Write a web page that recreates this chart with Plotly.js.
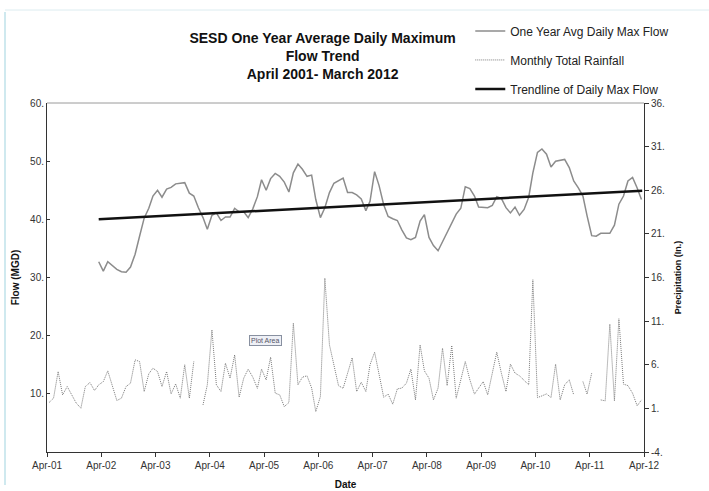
<!DOCTYPE html>
<html>
<head>
<meta charset="utf-8">
<script src="https://cdn.plot.ly/plotly-3.0.1.min.js"></script>
<style>
html,body{margin:0;padding:0;background:#fff;}
#chart{width:709px;height:491px;}
</style>
</head>
<body>
<div id="chart"></div>
<script>
// One year average daily max flow (MGD), monthly, Mar 2002 .. Mar 2012
var flowStart = [2002, 3];
var flowValues = [
 32.7,31.1,32.7,32.0,31.4,31.0,30.9,31.8,34.0,37.1,40.2,41.9,
 44.0,45.0,43.8,45.2,45.5,46.1,46.2,46.3,44.5,44.0,42.0,40.3,
 38.3,40.7,41.1,39.8,40.4,40.4,41.9,41.3,41.3,40.3,41.8,43.9,
 46.8,45.0,47.0,47.9,47.4,46.4,44.7,48.0,49.5,48.6,47.4,47.6,
 43.4,40.3,42.0,44.6,46.2,46.7,47.1,44.6,44.6,44.2,43.5,41.5,
 43.1,48.2,45.8,42.5,40.5,40.1,39.8,38.2,36.8,36.5,36.9,39.7,
 40.8,36.9,35.5,34.6,36.2,37.6,39.3,40.9,41.9,45.6,45.3,44.0,
 42.1,42.1,42.0,42.4,43.9,43.6,42.0,41.1,42.1,40.7,41.7,43.8,
 48.0,51.5,52.1,51.2,49.0,50.0,50.2,50.3,48.9,46.6,45.4,44.0,
 40.6,37.2,37.1,37.6,37.6,37.6,39.0,42.6,44.0,46.6,47.2,45.4,
 43.4
];
// Monthly total rainfall (in.), Apr 2001 .. Mar 2012 (null = missing)
var rainStart = [2001, 4];
var rainValues = [
 1.67,2.17,5.22,2.55,3.5,2.55,1.6,1.02,3.5,3.96,3.04,3.7,
 4.07,5.3,3.7,1.9,2.17,3.5,3.89,6.56,6.37,2.93,4.96,5.61,
 5.22,3.5,5.22,2.66,3.81,2.17,6.0,2.17,6.37,null,1.4,3.7,
 10.0,3.7,2.93,6.18,4.46,7.13,2.28,4.46,5.5,4.58,3.3,5.5,
 4.27,6.87,2.74,2.55,1.2,1.67,10.77,3.7,4.58,4.73,3.35,0.63,
 2.35,15.93,8.28,6.0,3.6,3.3,5.04,6.8,2.93,4.0,2.93,6.0,
 7.44,5.04,2.28,2.63,1.48,3.24,3.32,3.89,5.5,1.97,8.28,5.3,
 4.46,1.97,3.32,7.9,3.61,8.2,2.17,4.27,6.37,4.27,2.63,3.32,
 4.07,2.55,5.15,7.44,5.04,2.93,6.07,5.04,4.73,4.27,3.7,15.74,
 2.24,2.43,2.66,2.24,6.07,1.97,3.7,4.27,2.55,null,4.07,2.63,
 5.04,null,1.97,1.86,10.66,1.86,11.27,3.78,3.61,2.74,1.29,1.97
];
// Trendline of daily max flow: endpoints
var trendDates = ['2002-03-15', '2012-03-20'];
var trendValues = [40.0, 44.9];

var leftTicks = [0,10,20,30,40,50,60];
var leftTickText = ['', '10.', '20.', '30.', '40.', '50.', '60.'];
var rightTicks = [-4,1,6,11,16,21,26,31,36];
var rightTickText = ['-4.', '1.', '6.', '11.', '16.', '21.', '26.', '31.', '36.'];

function monthDates(start, n) {
  var out = [];
  var y = start[0], m = start[1];
  for (var i = 0; i < n; i++) {
    out.push(y + '-' + (m < 10 ? '0' : '') + m + '-15');
    m++; if (m > 12) { m = 1; y++; }
  }
  return out;
}

var flowDates = monthDates(flowStart, flowValues.length);
var rainDates = monthDates(rainStart, rainValues.length);

var font = 'Liberation Sans, Arial, sans-serif';

var traces = [
  {x: flowDates, y: flowValues, type: 'scatter', mode: 'lines',
   name: 'One Year Avg Daily Max Flow', legendgroup: 'a',
   line: {color: '#8c8c8c', width: 1.5}},
  {x: rainDates, y: rainValues, type: 'scatter', mode: 'lines', yaxis: 'y2',
   name: 'Monthly Total Rainfall', legendgroup: 'b', connectgaps: false,
   line: {color: '#7a7a7a', width: 1, dash: '1px,1px'}},
  {x: trendDates, y: trendValues, type: 'scatter', mode: 'lines',
   name: 'Trendline of Daily Max Flow', legendgroup: 'c',
   line: {color: '#111111', width: 2.5}}
];

var layout = {
  width: 709, height: 491,
  margin: {l: 47, r: 65, t: 103, b: 39},
  paper_bgcolor: '#ffffff', plot_bgcolor: '#ffffff',
  font: {family: font, color: '#222'},
  title: {
    text: 'SESD One Year Average Daily Maximum<br>Flow Trend<br>April 2001- March 2012',
    font: {family: font, size: 14, color: '#111', weight: 'bold'},
    x: 0.455, xref: 'container', xanchor: 'center',
    y: 0.913, yref: 'container', yanchor: 'top'
  },
  showlegend: true,
  legend: {
    x: 0.709, xanchor: 'left', y: 1.248, yanchor: 'top',
    bgcolor: 'rgba(0,0,0,0)', font: {family: font, size: 12, color: '#222'},
    tracegroupgap: 10, traceorder: 'grouped'
  },
  xaxis: {
    type: 'date',
    range: ['2001-04-01', '2012-04-01'],
    tick0: '2001-04-01', dtick: 'M12', tickformat: '%b-%y',
    ticks: 'outside', ticklen: 4, tickcolor: '#333',
    showline: true, linecolor: '#333', linewidth: 1,
    showgrid: false, zeroline: false,
    tickfont: {family: font, size: 10, color: '#333'},
    title: {text: 'Date', font: {family: font, size: 10, color: '#111', weight: 'bold'}, standoff: 10}
  },
  yaxis: {
    range: [0, 60],
    tickvals: leftTicks, ticktext: leftTickText,
    ticks: 'inside', ticklen: 3, tickcolor: '#333',
    showline: true, linecolor: '#333', linewidth: 1,
    showgrid: false, zeroline: false,
    tickfont: {family: font, size: 10, color: '#333'},
    title: {text: 'Flow (MGD)', font: {family: font, size: 10, color: '#111', weight: 'bold'}, standoff: 8}
  },
  yaxis2: {
    overlaying: 'y', side: 'right',
    range: [-4, 36],
    tickvals: rightTicks, ticktext: rightTickText,
    ticks: 'outside', ticklen: 4, tickcolor: '#333',
    showline: true, linecolor: '#333', linewidth: 1,
    showgrid: false, zeroline: false,
    tickfont: {family: font, size: 10, color: '#333'},
    title: {text: 'Precipitation (In.)', font: {family: font, size: 9, color: '#111', weight: 'bold'}, standoff: 10}
  },
  shapes: [
    {type: 'line', xref: 'paper', yref: 'paper', x0: 0, x1: 1, y0: 1, y1: 1,
     line: {color: '#9a9a9a', width: 1}},
    {type: 'line', xref: 'paper', yref: 'paper', x0: (5-47)/597, x1: (5-47)/597, y0: (452-12)/349, y1: (452-485)/349,
     line: {color: '#cfe9ef', width: 2}},
    {type: 'line', xref: 'paper', yref: 'paper', x0: (5-47)/597, x1: (709-47)/597, y0: (452-10)/349, y1: (452-10)/349,
     line: {color: '#dcecf0', width: 1}}
  ],
  annotations: [
    {text: 'Plot Area', xref: 'paper', yref: 'paper',
     x: (265-47)/597, y: (452-340)/349, yanchor: 'middle', showarrow: false,
     font: {family: font, size: 7, color: '#556'},
     bgcolor: '#eef0f6', bordercolor: '#8890a0', borderwidth: 1, borderpad: 1}
  ]
};

Plotly.newPlot('chart', traces, layout, {displayModeBar: false, responsive: false});
</script>
</body>
</html>
